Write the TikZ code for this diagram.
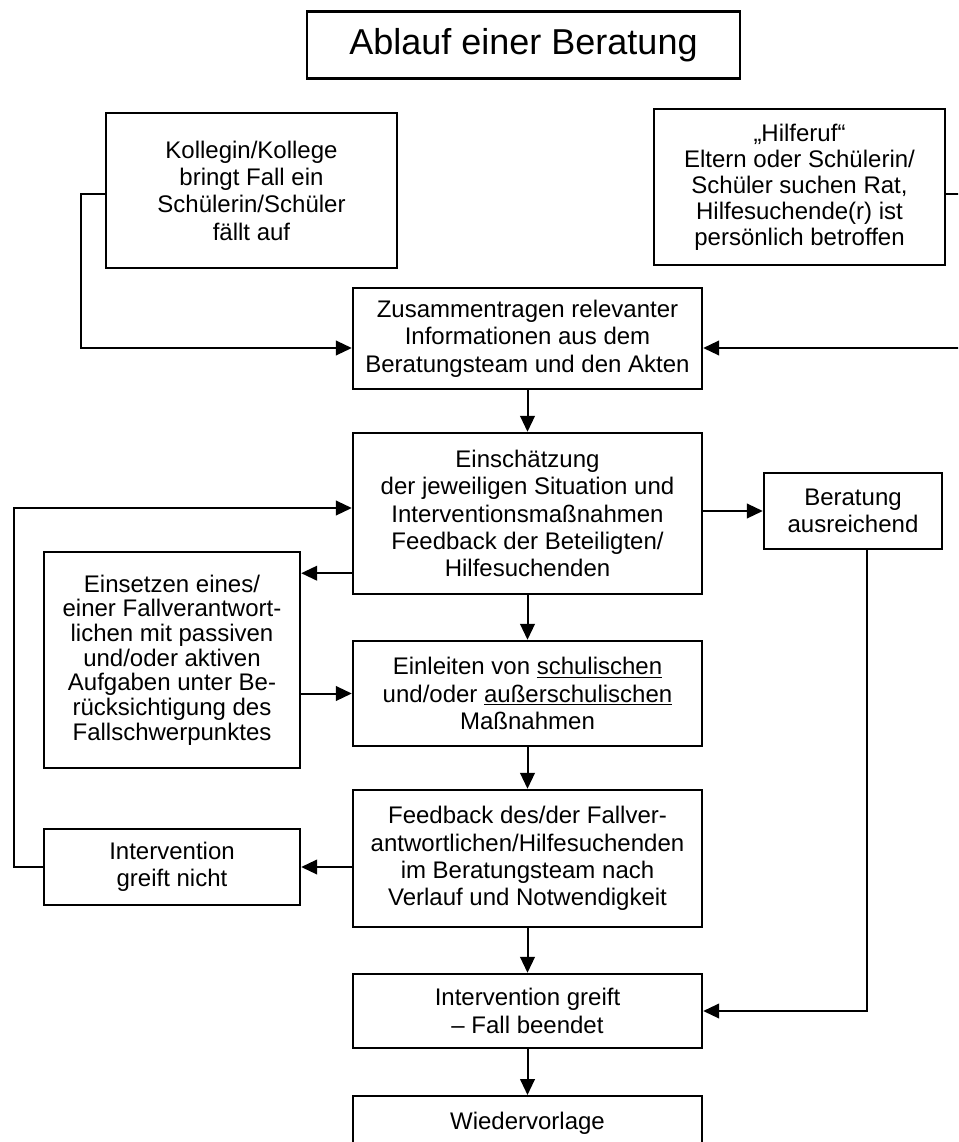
\documentclass[tikz,border=0pt]{standalone}
\usepackage{fontspec}
\setmainfont{Liberation Sans}
\usetikzlibrary{arrows.meta}
\begin{document}
\begin{tikzpicture}[x=0.75pt,y=-0.75pt,
        box/.style={draw,line width=1.8pt,align=center,inner sep=0pt,font=\fontsize{18}{20.5}\selectfont},
        arr/.style={-{Triangle[length=12pt,width=11pt]},line width=1.5pt}]
                \path[use as bounding box,clip] (0,0) rectangle (958,1142);

                \node[box,minimum width=324.75pt,minimum height=50.25pt,font=\fontsize{27}{32}\selectfont] (title) at (523.5,45) {Ablauf einer Beratung};
                \node[box,minimum width=218.25pt,minimum height=116.25pt] (kol) at (251.5,190.5) {Kollegin/Kollege\\bringt Fall ein\\Schülerin/Schüler\\fällt auf};
                \node[box,minimum width=218.25pt,minimum height=117pt,font=\fontsize{18}{19.5}\selectfont] (hilf) at (799.5,187) {„Hilferuf“\\Eltern oder Schülerin/\\Schüler suchen Rat,\\Hilfesuchende(r) ist\\persönlich betroffen};
                \node[box,minimum width=261.75pt,minimum height=75.75pt] (zus) at (527.5,338.5) {Zusammentragen relevanter\\Informationen aus dem\\Beratungsteam und den Akten};
                \node[box,minimum width=261.75pt,minimum height=120.75pt] (ein) at (527.5,513.5) {Einschätzung\\der jeweiligen Situation und\\Interventionsmaßnahmen\\Feedback der Beteiligten/\\Hilfesuchenden};
                \node[box,minimum width=133.5pt,minimum height=57pt] (ber) at (853,511) {Beratung\\ausreichend};
                \node[box,minimum width=192pt,minimum height=162pt,font=\fontsize{18}{18.5}\selectfont] (fv) at (172,660) {Einsetzen eines/\\einer Fallverantwort-\\lichen mit passiven\\und/oder aktiven\\Aufgaben unter Be-\\rücksichtigung des\\Fallschwerpunktes};
                \node[box,minimum width=261.75pt,minimum height=78.75pt] (mass) at (527.5,693.5) {Einleiten von \underline{schulischen}\\und/oder \underline{außerschulischen}\\Maßnahmen};
                \node[box,minimum width=261.75pt,minimum height=102.75pt] (fb) at (527.5,858.5) {Feedback des/der Fallver-\\antwortlichen/Hilfesuchenden\\im Beratungsteam nach\\Verlauf und Notwendigkeit};
                \node[box,minimum width=192pt,minimum height=57pt] (nicht) at (172,867) {Intervention\\greift nicht};
                \node[box,minimum width=261.75pt,minimum height=55.5pt] (ende) at (527.5,1011) {Intervention greift\\– Fall beendet};
                \node[box,minimum width=261.75pt,anchor=north,text height=24.75pt,text depth=40pt] (wv) at (527.5,1095) {Wiedervorlage};

                \coordinate (kl) at (81,348);
                \coordinate (hr) at (970,348);
                \coordinate (lp) at (14,508);

                \draw[arr] ([yshift=-2.6pt]kol.west) -| (kl) -- (kl -| zus.west);
                \draw[arr] ([yshift=-5.2pt]hilf.east) -| (hr) -- (hr -| zus.east);
                \draw[arr] (zus) -- (ein);
                \draw[arr] (ein.east |- ber.west) -- (ber.west);
                \draw[arr] ([yshift=16.5pt]ein.south west) coordinate (e1) -- (e1 -| fv.east);
                \draw[arr] (ein) -- (mass);
                \draw[arr] (fv.east |- mass.west) -- (mass.west);
                \draw[arr] (mass) -- (fb);
                \draw[arr] (fb.west |- nicht.east) -- (nicht.east);
                \draw[arr] (nicht.west) -| (lp) -- (lp -| ein.west);
                \draw[arr] (fb) -- (ende);
                \draw[arr] ([xshift=10.5pt]ber.south) |- (ende.east);
                \draw[arr] (ende) -- (wv);
            \end{tikzpicture}
\end{document}
